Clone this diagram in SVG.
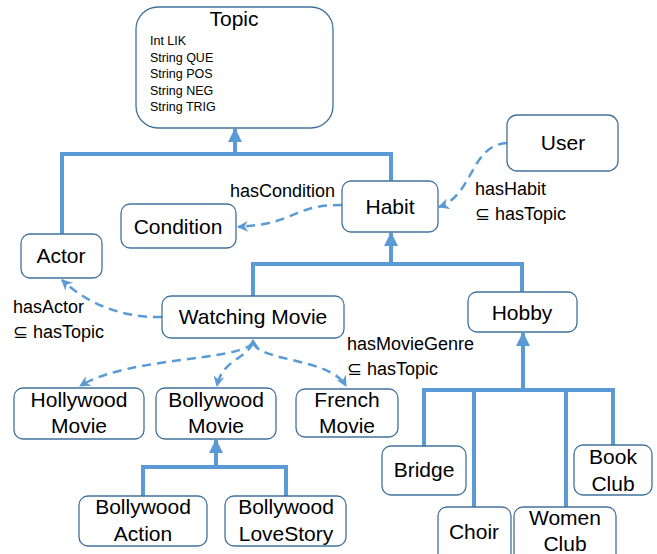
<svg xmlns="http://www.w3.org/2000/svg" width="657" height="554" viewBox="0 0 657 554">
<defs>
<style>
.box{fill:#fff;stroke:#41719C;stroke-width:1.3}
.t{font-family:"Liberation Sans",Arial,sans-serif;font-size:21px;fill:#000;text-anchor:middle}
.a{font-family:"Liberation Sans",Arial,sans-serif;font-size:12.5px;fill:#000}
.l{font-family:"Liberation Sans",Arial,sans-serif;font-size:18px;fill:#000}
.thick{fill:none;stroke:#5B9BD5;stroke-width:4}
.dash{fill:none;stroke:#5B9BD5;stroke-width:2.5;stroke-dasharray:9,6}
</style>
<marker id="big" viewBox="0 0 14 14" refX="13" refY="7" markerWidth="14" markerHeight="14" markerUnits="userSpaceOnUse" orient="auto">
<path d="M0,0 L14,7 L0,14 Z" fill="#5B9BD5"/>
</marker>
<marker id="sm" viewBox="0 0 10 10" refX="9" refY="5" markerWidth="11" markerHeight="11" markerUnits="userSpaceOnUse" orient="auto">
<path d="M0,0 L10,5 L0,10 L3,5 Z" fill="#5B9BD5"/>
</marker>
</defs>
<g id="connectors">
<path class="thick" d="M62,234 V154 H391 V181"/>
<path class="thick" d="M235,154 V129" marker-end="url(#big)"/>
<path class="thick" d="M253,296 V264 H522 V292"/>
<path class="thick" d="M391,264 V233" marker-end="url(#big)"/>
<path class="thick" d="M143,496 V467 H286 V496"/>
<path class="thick" d="M216,467 V440" marker-end="url(#big)"/>
<path class="thick" d="M424,446 V390 H613 V445"/>
<path class="thick" d="M474,390 V507"/>
<path class="thick" d="M566,390 V507"/>
<path class="thick" d="M523,390 V333" marker-end="url(#big)"/>
<path class="dash" d="M342,205 C290,205 300,223 238,227" marker-end="url(#sm)"/>
<path class="dash" d="M507,143 C470,145 474,195 439,207" marker-end="url(#sm)"/>
<path class="dash" d="M162,317 C120,318 85,302 62,280" marker-end="url(#sm)"/>
<path class="dash" d="M253,343 C235,362 130,356 80,386" marker-end="url(#sm)"/>
<path class="dash" d="M253,343 C245,360 222,360 217,386" marker-end="url(#sm)"/>
<path class="dash" d="M253,343 C262,362 330,358 346,386" marker-end="url(#sm)"/>
<path d="M247,348 L253,339 L259,348 L253,345 Z" fill="#5B9BD5"/>
<text class="l" x="230" y="197">hasCondition</text>
<text class="l" x="475" y="195">hasHabit</text>
<text class="l" x="475" y="220">⊆ hasTopic</text>
<text class="l" x="13" y="313">hasActor</text>
<text class="l" x="13" y="338">⊆ hasTopic</text>
<text class="l" x="347" y="350">hasMovieGenre</text>
<text class="l" x="347" y="375">⊆ hasTopic</text>
</g>
<g id="topic">
<rect class="box" x="136" y="7" width="197" height="121" rx="22"/>
<text class="t" x="234" y="26">Topic</text>
<text class="a" x="150" y="45">Int LIK</text>
<text class="a" x="150" y="62">String QUE</text>
<text class="a" x="150" y="78">String POS</text>
<text class="a" x="150" y="95">String NEG</text>
<text class="a" x="150" y="111">String TRIG</text>
</g>
<g id="user"><rect class="box" x="507" y="115" width="111" height="56" rx="10"/><text class="t" x="563" y="150">User</text></g>
<g id="habit"><rect class="box" x="342" y="181" width="96" height="51" rx="9"/><text class="t" x="390" y="214">Habit</text></g>
<g id="condition"><rect class="box" x="121" y="204" width="115" height="44" rx="9"/><text class="t" x="178" y="234">Condition</text></g>
<g id="actor"><rect class="box" x="21" y="234" width="81" height="44" rx="9"/><text class="t" x="61" y="263">Actor</text></g>
<g id="watching"><rect class="box" x="162" y="296" width="182" height="42" rx="9"/><text class="t" x="253" y="324">Watching Movie</text></g>
<g id="hobby"><rect class="box" x="468" y="292" width="109" height="40" rx="9"/><text class="t" x="522" y="320">Hobby</text></g>
<g id="hollywood"><rect class="box" x="14" y="388" width="130" height="51" rx="9"/><text class="t" x="79" y="407">Hollywood</text><text class="t" x="79" y="433">Movie</text></g>
<g id="bollywood"><rect class="box" x="156" y="388" width="120" height="51" rx="9"/><text class="t" x="216" y="407">Bollywood</text><text class="t" x="216" y="433">Movie</text></g>
<g id="french"><rect class="box" x="296" y="389" width="102" height="48" rx="9"/><text class="t" x="347" y="407">French</text><text class="t" x="347" y="433">Movie</text></g>
<g id="bollyaction"><rect class="box" x="79" y="496" width="128" height="50" rx="9"/><text class="t" x="143" y="514">Bollywood</text><text class="t" x="143" y="541">Action</text></g>
<g id="bollylove"><rect class="box" x="225" y="496" width="121" height="50" rx="9"/><text class="t" x="286" y="514">Bollywood</text><text class="t" x="286" y="541">LoveStory</text></g>
<g id="bridge"><rect class="box" x="382" y="446" width="84" height="49" rx="9"/><text class="t" x="424" y="477">Bridge</text></g>
<g id="bookclub"><rect class="box" x="574" y="445" width="78" height="50" rx="9"/><text class="t" x="613" y="464">Book</text><text class="t" x="613" y="491">Club</text></g>
<g id="choir"><rect class="box" x="438" y="507" width="73" height="60" rx="9"/><text class="t" x="474" y="539">Choir</text></g>
<g id="women"><rect class="box" x="514" y="507" width="102" height="60" rx="9"/><text class="t" x="565" y="525">Women</text><text class="t" x="565" y="551">Club</text></g>
</svg>
